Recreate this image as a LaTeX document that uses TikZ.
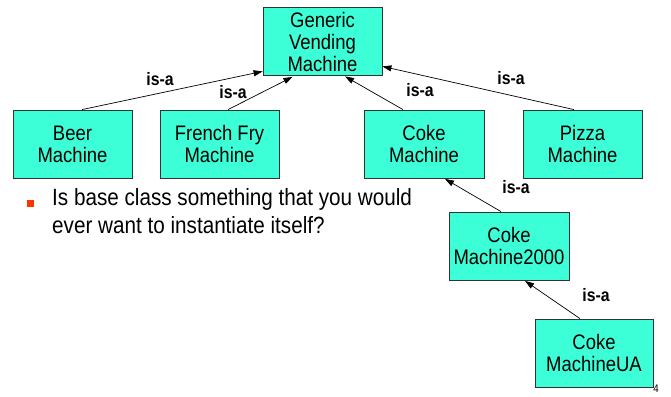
\documentclass[tikz,border=0pt]{standalone}
\usepackage{fontspec}
\setmainfont[FakeStretch=0.88]{Liberation Sans}
\usetikzlibrary{arrows.meta}
\definecolor{boxfill}{RGB}{60,255,215}
\definecolor{bulletred}{RGB}{255,51,0}
\tikzset{
  classbox/.style={draw=black!80, line width=0.8pt, fill=boxfill, minimum width=119pt, minimum height=68pt, inner sep=0pt, align=center, font=\fontsize{21}{22}\selectfont},
  isa/.style={-{Triangle[length=9pt,width=6pt]}, line width=0.7pt},
  isalabel/.style={font=\fontsize{18}{19}\selectfont\bfseries, inner sep=0pt}
}
\begin{document}
\begin{tikzpicture}[x=1pt,y=-1pt]
\useasboundingbox (0,0) rectangle (671,396);
\node[classbox] (generic) at (322.5,41.5) {Generic\\Vending\\Machine};
\node[classbox] (beer) at (72.5,144) {Beer\\Machine};
\node[classbox] (french) at (219.5,144) {French Fry\\Machine};
\node[classbox, minimum width=120pt] (coke) at (424,144) {Coke\\Machine};
\node[classbox] (pizza) at (582.5,144) {Pizza\\Machine};
\node[classbox, minimum width=120pt] (c2000) at (509,246) {Coke\\Machine2000};
\node[classbox, minimum width=118pt] (ua) at (594,353) {Coke\\MachineUA};

\draw[isa] ([xshift=9.5pt]beer.north) -- ([yshift=4.5pt]generic.south west);
\draw[isa] ([xshift=8.5pt]french.north) -- ([xshift=-30pt,yshift=-1pt]generic.south);
\draw[isa] ([xshift=-21pt]coke.north) -- ([xshift=22.5pt,yshift=-0.5pt]generic.south);
\draw[isa] ([xshift=-8.5pt]pizza.north) -- ([yshift=9.5pt]generic.south east);
\draw[isa] ([xshift=-8pt]c2000.north) -- ([xshift=21pt,yshift=-0.5pt]coke.south);
\draw[isa] ([xshift=-14pt]ua.north) -- ([xshift=16pt,yshift=-0.5pt]c2000.south);

\node[isalabel] (l1) at (160,79) {is-a};
\node[isalabel] (l2) at (233,92) {is-a};
\node[isalabel] (l3) at (420,90) {is-a};
\node[isalabel] (l4) at (511,78) {is-a};
\node[isalabel] (l5) at (516,187) {is-a};
\node[isalabel] (l6) at (596,295) {is-a};

\node[fill=bulletred, minimum size=7pt, inner sep=0pt] (bullet) at (30,203) {};
\node[anchor=north west, align=left, inner sep=0pt, font=\fontsize{23.5}{28}\selectfont] (q) at (52,188.5) {Is base class something that you would\\ever want to instantiate itself?};
\node[anchor=south, inner sep=0pt, font=\fontsize{11}{12}\selectfont] (pg) at (656,393) {4};
\end{tikzpicture}
\end{document}
